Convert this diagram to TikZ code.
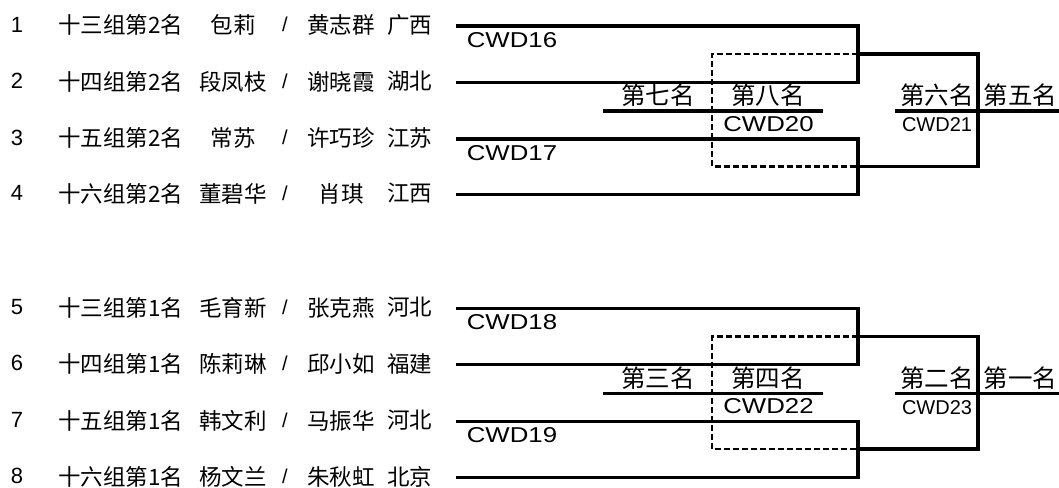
\documentclass[tikz,border=0pt]{standalone}
\usepackage{fontspec}
\newfontfamily\cjk{Noto Sans CJK SC}
\newfontfamily\arialf{Liberation Sans}
\newfontfamily\arialw[FakeStretch=1.2]{Liberation Sans}
\tikzset{
  rowtxt/.style={font=\cjk\fontsize{22.5}{24}\selectfont, inner sep=0pt},
  numtxt/.style={font=\arialf\fontsize{22}{24}\selectfont, inner sep=0pt},
  slashtxt/.style={font=\arialf\fontsize{20}{22}\selectfont, inner sep=0pt},
  placetxt/.style={font=\cjk\fontsize{24.5}{26}\selectfont, inner sep=0pt},
  codetxt/.style={font=\arialw\fontsize{21.5}{24}\selectfont, inner sep=0pt},
  codesm/.style={font=\arialf\fontsize{20}{22}\selectfont, inner sep=0pt},
  bline/.style={line width=3.1pt},
  dline/.style={line width=2.7pt, dash pattern=on 6pt off 3pt},
}
\begin{document}
\begin{tikzpicture}[x=1pt,y=-1pt]
\useasboundingbox (0,0) rectangle (1059,487);
% rows
\foreach \i/\y/\g/\a/\b/\p in {
  1/26/十三组第2名/包莉/黄志群/广西,
  2/82.5/十四组第2名/段凤枝/谢晓霞/湖北,
  3/139/十五组第2名/常苏/许巧珍/江苏,
  4/194.5/十六组第2名/董碧华/肖琪/江西,
  5/308.5/十三组第1名/毛育新/张克燕/河北,
  6/364.5/十四组第1名/陈莉琳/邱小如/福建,
  7/421.5/十五组第1名/韩文利/马振华/河北,
  8/477.5/十六组第1名/杨文兰/朱秋虹/北京}{
  \node[numtxt] (num\i) at (17,\y-1.5) {\i};
  \node[rowtxt,anchor=west] (g\i) at (58,\y-1) {\g};
  \node[rowtxt] (a\i) at (233,\y-1) {\a};
  \node[slashtxt] (s\i) at (285,\y-1.5) {/};
  \node[rowtxt] (b\i) at (341,\y-1) {\b};
  \node[rowtxt,anchor=west] (p\i) at (387,\y-1) {\p};
  \coordinate (L\i) at (456,\y);
  \coordinate (C\i) at (858,\y);
}
% brackets
\foreach \o/\k/\ra/\rb/\rc/\rd/\ca/\cb/\cc/\cd/\la/\lb/\lc/\ld in {
  0/a/1/2/3/4/16/17/20/21/第七名/第八名/第六名/第五名,
  282.5/b/5/6/7/8/18/19/22/23/第三名/第四名/第二名/第一名}{
  \draw[bline] (L\ra) -- (C\ra) -- (C\rb) -- (L\rb);
  \draw[bline] (L\rc) -- (C\rc) -- (C\rd) -- (L\rd);
  \coordinate (WT\k) at (858,{54+\o});
  \coordinate (WB\k) at (858,{166.5+\o});
  \coordinate (RT\k) at (978,{54+\o});
  \coordinate (RB\k) at (978,{166.5+\o});
  \coordinate (DT\k) at (712,{54+\o});
  \coordinate (DB\k) at (712,{166.5+\o});
  \coordinate (ML\k) at (603,{111+\o});
  \coordinate (MR\k) at (823,{111+\o});
  \coordinate (FL\k) at (895,{111+\o});
  \coordinate (FR\k) at (1059,{111+\o});
  \draw[bline] (WT\k) -- (RT\k) -- (RB\k) -- (WB\k);
  \draw[dline] (WT\k) -- (DT\k) -- (DB\k) -- (WB\k);
  \draw[bline] (ML\k) -- (MR\k);
  \draw[bline] (FL\k) -- (FR\k);
  \node[codetxt] (code\ca) at (512,{40+\o}) {CWD\ca};
  \node[codetxt] (code\cb) at (512,{153+\o}) {CWD\cb};
  \node[codetxt] (code\cc) at (768.5,{124+\o}) {CWD\cc};
  \node[codesm] (code\cd) at (937,{125+\o}) {CWD\cd};
  \node[placetxt] (pl\k a) at (658,{95.5+\o}) {\la};
  \node[placetxt] (pl\k b) at (768,{95.5+\o}) {\lb};
  \node[placetxt] (pl\k c) at (937,{95.5+\o}) {\lc};
  \node[placetxt] (pl\k d) at (1020.5,{95.5+\o}) {\ld};
}
\end{tikzpicture}
\end{document}
